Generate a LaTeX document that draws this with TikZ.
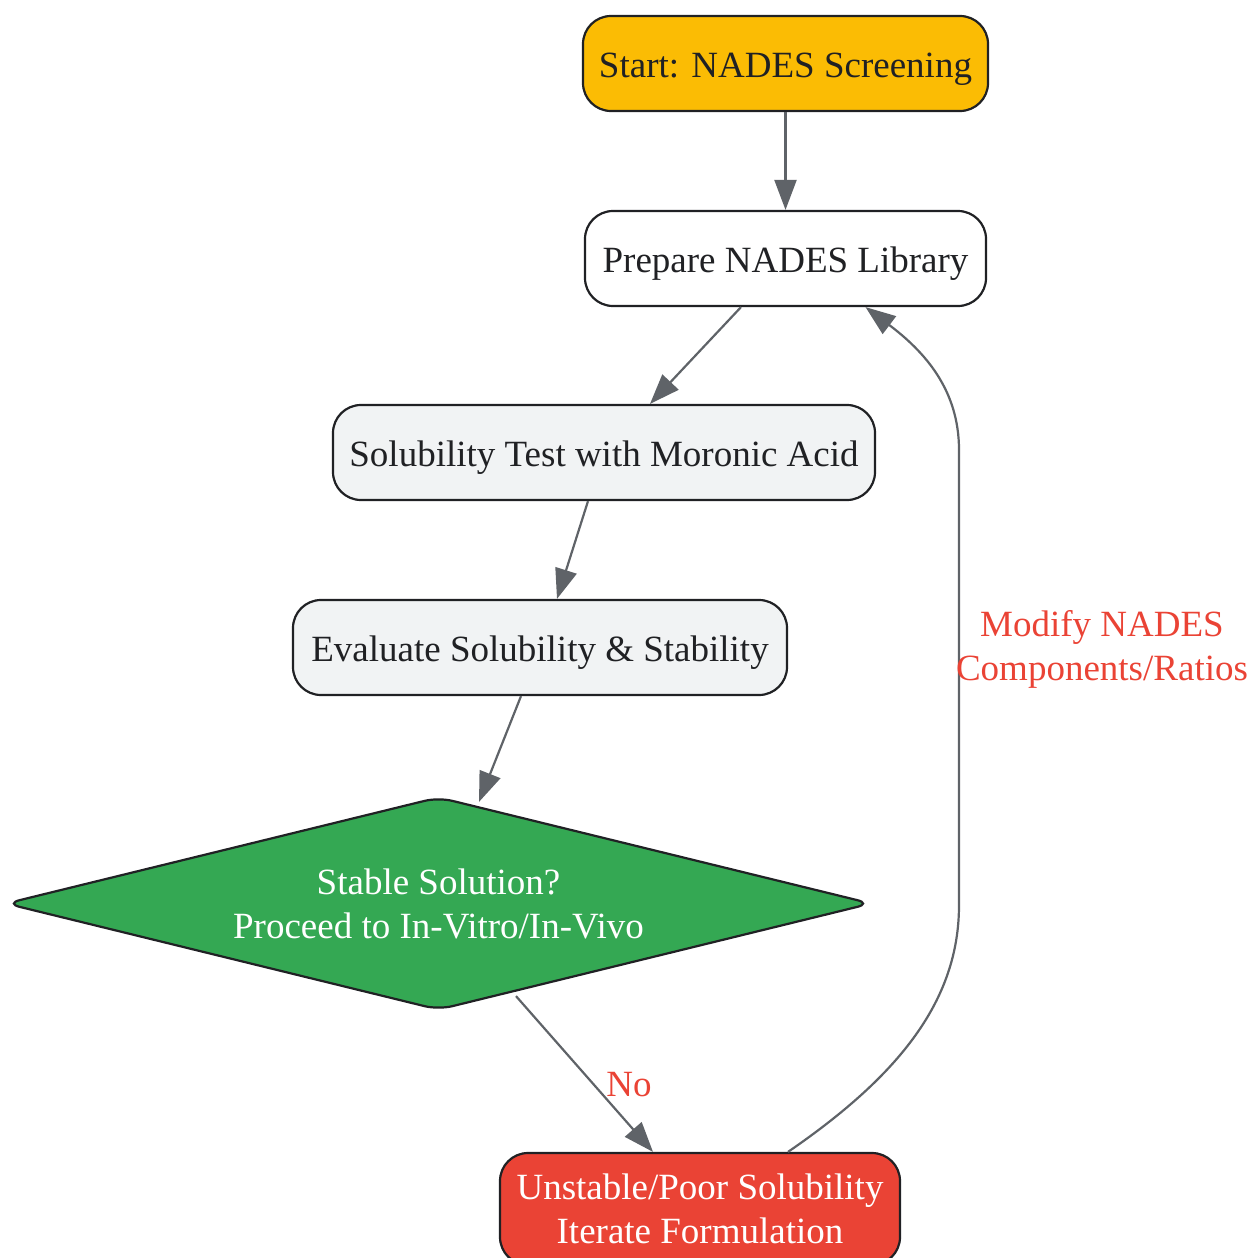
\documentclass[tikz,border=0pt]{standalone}
\usepackage{fontspec}
\setmainfont{Liberation Serif}
\usetikzlibrary{shapes.geometric,arrows.meta}
\definecolor{edgegray}{HTML}{5F6368}
\definecolor{darktext}{HTML}{202124}
\definecolor{startfill}{HTML}{FBBC04}
\definecolor{lightfill}{HTML}{F1F3F4}
\definecolor{gred}{HTML}{EA4335}
\definecolor{ggreen}{HTML}{34A853}
\tikzset{
  box/.style={draw=darktext, line width=2.2pt, rounded corners=28pt, inner sep=0pt,
    minimum height=95pt, align=center, text=darktext,
    font=\fontsize{37}{44}\selectfont},
  oneline/.style={text height=36pt, text depth=8pt},
  decision/.style={diamond, draw=darktext, line width=2.2pt, rounded corners=14pt,
    inner sep=0pt, aspect=4.08, minimum width=866pt, minimum height=213pt,
    fill=ggreen, text=white, align=center, font=\fontsize{37}{44}\selectfont},
  conn/.style={draw=edgegray, line width=2.2pt, -{Triangle[length=30pt,width=22pt]}},
  elabel/.style={text=gred, align=center, font=\fontsize{37}{44}\selectfont}
}
\begin{document}
\begin{tikzpicture}[x=1pt,y=-1pt]
\useasboundingbox (0,0) rectangle (1251,1258);
\node[box, oneline, fill=startfill, minimum width=405pt] (start) at (785.5,63.5) {Start: NADES Screening};
\node[box, oneline, fill=white, minimum width=401pt] (prep) at (785.5,258.5) {Prepare NADES Library};
\node[box, oneline, fill=lightfill, minimum width=542pt] (sol) at (604,452.5) {Solubility Test with Moronic Acid};
\node[box, oneline, fill=lightfill, minimum width=494pt] (eval) at (540,647.5) {Evaluate Solubility \& Stability};
\node[decision] (dec) at (438.5,903.5) {Stable Solution?\\Proceed to In-Vitro/In-Vivo};
\node[box, fill=gred, text=white, minimum width=400pt, minimum height=112pt] (unst) at (700,1209) {Unstable/Poor Solubility\\Iterate Formulation};

\draw[conn] (start.south) -- (prep.north);
\draw[conn] ([xshift=-44.5pt]prep.south) -- ([xshift=46pt]sol.north);
\draw[conn] ([xshift=-16pt]sol.south) -- ([xshift=17pt]eval.north);
\draw[conn] ([xshift=-19pt]eval.south) -- ([xshift=40.5pt,yshift=-6pt]dec.north);
\draw[conn] ([xshift=77.5pt,yshift=15pt]dec.south) -- ([xshift=-47pt]unst.north) node[elabel, pos=0.57, anchor=center, xshift=35pt] {No};
\coordinate (c1) at (959,905);
\coordinate (c2) at (959,450);
\draw[conn] ([xshift=88pt]unst.north) .. controls (900,1075) and (959,1000) .. (c1) -- (c2)
  .. controls (959,390) and (925,352) .. ([xshift=80pt]prep.south);
\node[elabel] (lab) at (1102,649) {Modify NADES\\Components/Ratios};
\end{tikzpicture}
\end{document}
